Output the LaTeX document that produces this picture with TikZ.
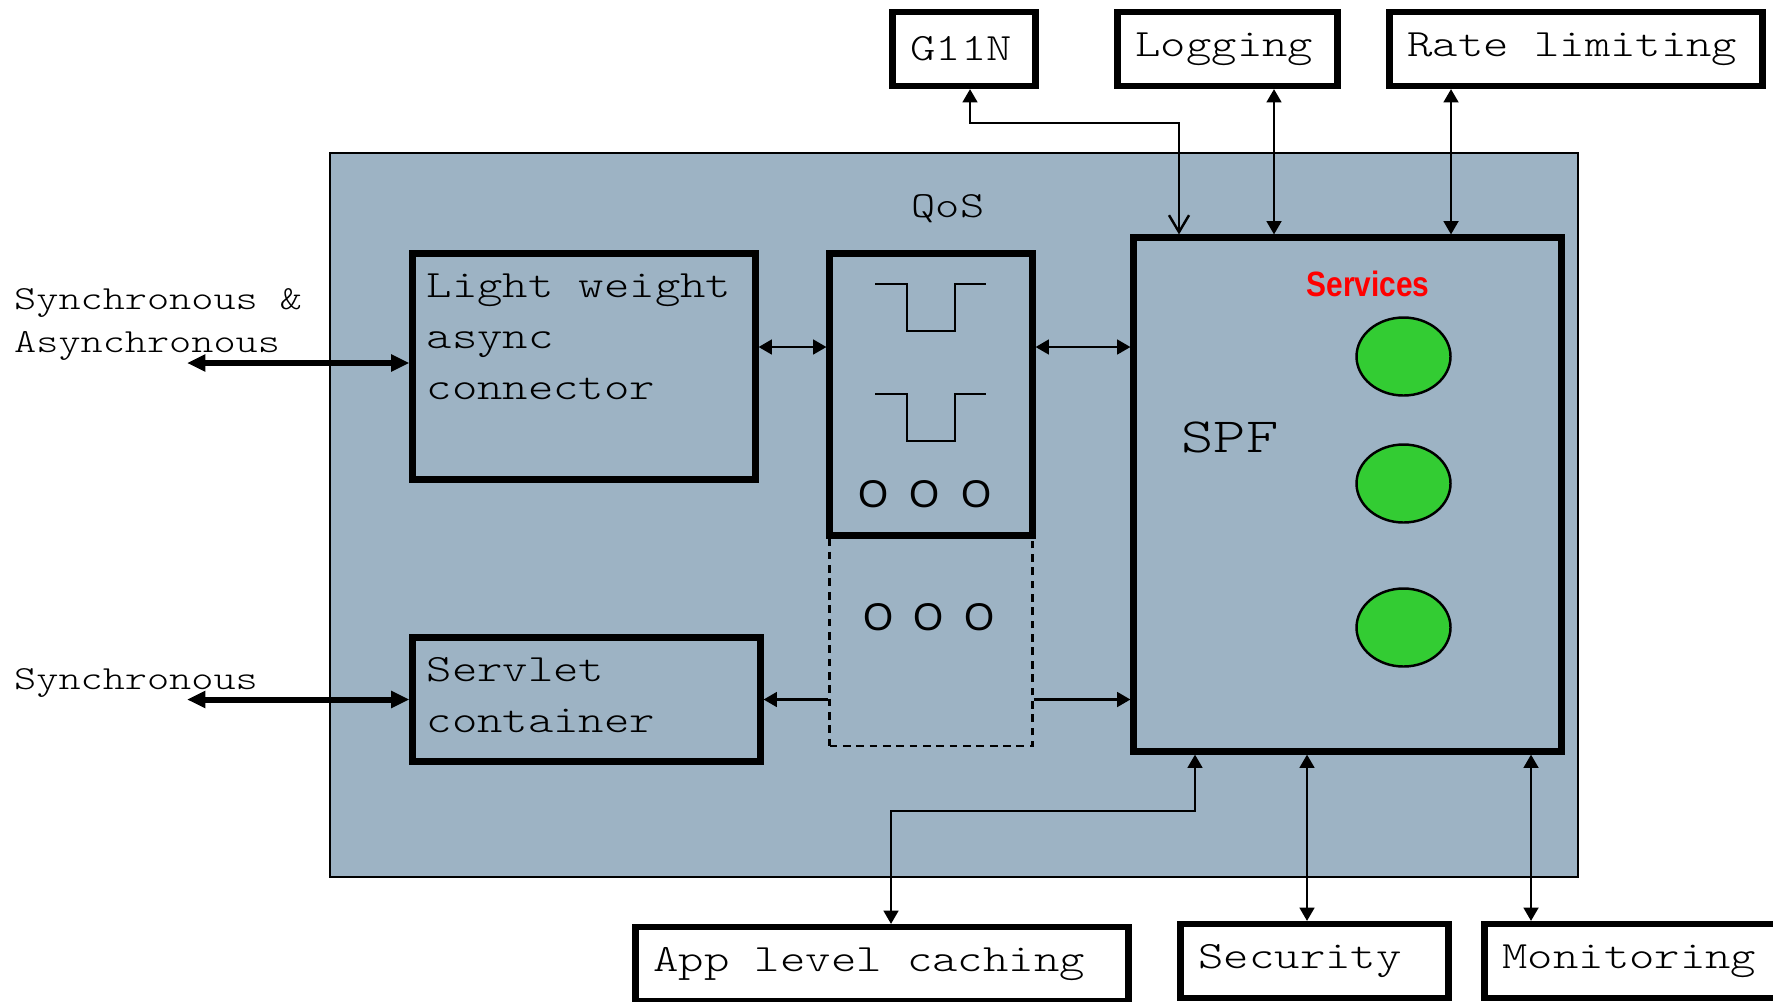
\documentclass[tikz,border=0pt]{standalone}
\usepackage{fontspec}
\newfontfamily\cour[FakeStretch=1.25,WordSpace={1,0,0}]{lmmonolt10-regular.otf}
\newfontfamily\arial{Liberation Sans}
\newfontfamily\arialn[FakeStretch=0.85]{Liberation Sans}
\usepackage{xcolor}
\usetikzlibrary{arrows.meta,positioning,calc,shapes.geometric}
\definecolor{panel}{RGB}{157,179,196}
\definecolor{svcgreen}{RGB}{51,204,51}

\begin{document}
\begin{tikzpicture}[
        line width=0.7pt,
        >={Triangle[length=3.8pt,width=4.2pt]},
        box/.style = {draw,fill=panel,line width=1.75pt,inner sep=0pt},
        ext/.style = {draw,fill=white,line width=1.75pt,minimum height=0.74cm,inner xsep=0.18cm,
                      text width=#1,align=flush left,font=\cour\fontsize{11}{14.5}\selectfont},
        txt/.style = {inner sep=0pt,align=left,font=\cour\fontsize{11}{14.5}\selectfont},
        side/.style = {inner sep=0pt,align=left,font=\cour\fontsize{9.6}{12.2}\selectfont},
        dot/.style = {inner sep=0pt,font=\arial\fontsize{11}{12}\selectfont},
        svc/.style = {draw,ellipse,fill=svcgreen,minimum width=0.94cm,minimum height=0.78cm,inner sep=0pt},
        fat/.style = {line width=1.7pt,{Triangle[length=5.2pt,width=4.6pt]}-{Triangle[length=5.2pt,width=4.6pt]}}
        ]

        %Rahmen
        \useasboundingbox (0,0) rectangle (17.73,-10.01);
        \clip (0,0) rectangle (17.73,-10.01);
        \draw[fill=panel,line width=0.5pt] (3.30,-1.53) rectangle (15.78,-8.77);

        %Konnektoren
        \node[box,minimum width=3.43cm,minimum height=2.26cm] (lw) at (5.84,-3.665) {};
        \node[txt,anchor=north west] (lwt) at ([shift={(0.16,-0.22)}]lw.north west) {Light weight\\async\\connector};
        \node[box,minimum width=3.48cm,minimum height=1.24cm] (sc) at (5.865,-6.995) {};
        \node[txt,anchor=north west] (sct) at ([shift={(0.16,-0.22)}]sc.north west) {Servlet\\container};

        %QoS
        \node[draw,dash pattern=on 2.2pt off 1.6pt,minimum width=2.03cm,minimum height=2.08cm,inner sep=0pt] (dash) at (9.31,-6.42) {};
        \node[box,minimum width=2.03cm,minimum height=2.82cm] (qos) at (9.31,-3.945) {};
        \node[font=\cour\fontsize{10.5}{13}\selectfont] (qlab) at (9.48,-2.09) {QoS};
        \foreach \y in {-2.84,-3.94}
        \draw[line width=0.75pt] (8.75,\y) -- ++(0.32,0) -- ++(0,-0.47) -- ++(0.48,0) -- ++(0,0.47) -- ++(0.31,0);
        \foreach \x [count=\i] in {8.74,9.25,9.77}
        \node[dot] (oa\i) at (\x,-4.94) {O};
        \foreach \x [count=\i] in {8.79,9.29,9.80}
        \node[dot] (ob\i) at (\x,-6.17) {O};

        %SPF
        \node[box,minimum width=4.28cm,minimum height=5.14cm] (spf) at (13.475,-4.945) {};
        \node[font=\cour\fontsize{14}{18}\selectfont] (spft) at (12.30,-4.37) {SPF};
        \node[font=\arialn\bfseries\fontsize{10}{12}\selectfont,text=red] (svct) at (13.68,-2.84) {Services};
        \foreach \y [count=\i] in {-3.565,-4.835,-6.275}
        \node[svc] (s\i) at (14.035,\y) {};

        %Dienste aussen
        \node[ext=1.07cm] (g11n) at (9.64,-0.49) {G11N};
        \node[ext=1.84cm] (log) at (12.275,-0.49) {Logging};
        \node[ext=3.37cm] (rate) at (15.76,-0.49) {Rate limiting};
        \node[ext=4.57cm] (app) at (8.82,-9.64) {App level caching};
        \node[ext=2.32cm] (sec) at (13.145,-9.61) {Security};
        \node[ext=2.57cm] (mon) at (16.31,-9.61) {Monitoring};

        %Eingaenge
        \node[side,anchor=west] (inA) at (0.13,-3.245) {Synchronous \&\\Asynchronous};
        \node[side,anchor=west] (inB) at (0.13,-6.83) {Synchronous};
        \coordinate (aa) at (1.87,-3.63);
        \draw[fat] (aa) -- (lw.west |- aa);
        \draw[fat] (aa |- sc.west) -- (sc.west);

        %Pfeile innen
        \coordinate (up) at (0,-3.47);
        \draw[<->] (lw.east |- up) -- (qos.west |- up);
        \draw[<->] (qos.east |- up) -- (spf.west |- up);
        \draw[->] (dash.west |- sc.east) -- (sc.east);
        \draw[->] (dash.east |- sc.east) -- (spf.west |- sc.east);

        %Pfeile oben
        \coordinate (ga) at (9.70,-1.23);
        \coordinate (gb) at (11.79,-1.23);
        \draw[{Triangle[length=3.8pt,width=4.2pt]}-{Straight Barb[length=4.8pt,width=5.7pt]}]
            (ga |- g11n.south) -- (ga) -- (gb) -- (gb |- spf.north);
        \coordinate (lg) at (12.74,0);
        \draw[<->] (lg |- log.south) -- (lg |- spf.north);
        \coordinate (rt) at (14.51,0);
        \draw[<->] (rt |- rate.south) -- (rt |- spf.north);

        %Pfeile unten
        \coordinate (cb) at (8.91,-8.11);
        \coordinate (cs) at (11.95,0);
        \draw[<->] (cb |- app.north) -- (cb) -| (cs |- spf.south);
        \coordinate (se) at (13.07,0);
        \draw[<->] (se |- sec.north) -- (se |- spf.south);
        \coordinate (mo) at (15.31,0);
        \draw[<->] (mo |- mon.north) -- (mo |- spf.south);

\end{tikzpicture}
\end{document}
